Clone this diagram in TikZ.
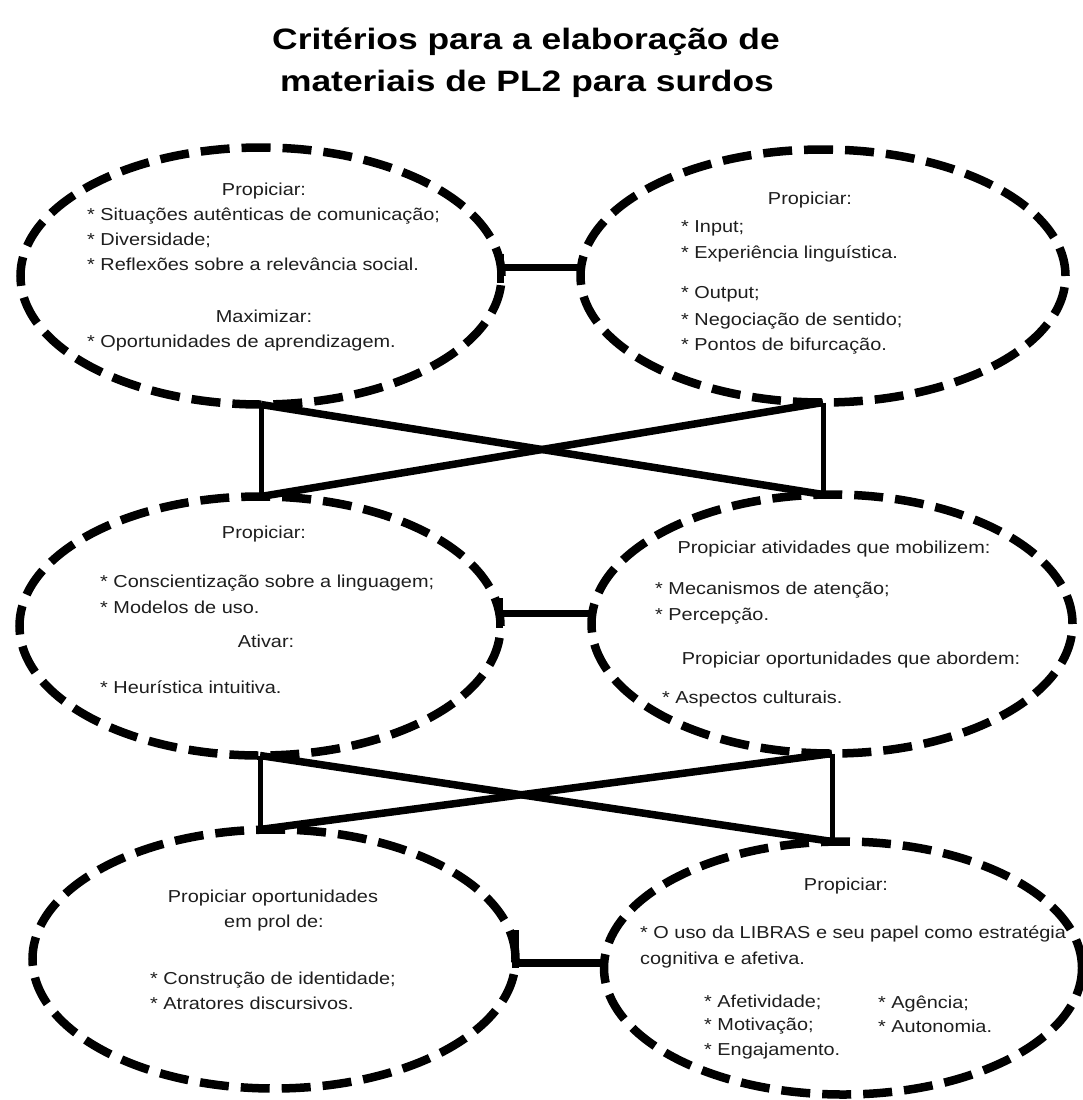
\documentclass[tikz,border=0pt]{standalone}
\usepackage{fontspec}
\setmainfont[FakeStretch=1.15]{Liberation Sans}
\newfontfamily\titlefont[FakeStretch=1.2]{Liberation Sans}
\usetikzlibrary{shapes.geometric}
\definecolor{txtcol}{HTML}{1E1E1E}
\begin{document}
\begin{tikzpicture}[x=1pt,y=-1pt,
  ell/.style={ellipse, draw=black, line width=8.5pt, dash pattern=on 29pt off 12pt,
    inner sep=0pt, outer sep=0pt},
  hconn/.style={draw=black, line width=7.5pt},
  tickbar/.style={draw=black, line width=7pt},
  vconn/.style={draw=black, line width=5pt},
  dconn/.style={draw=black, line width=7.5pt},
  txt/.style={inner sep=0pt, text=txtcol, font=\fontsize{17.3}{20}\selectfont},
  ttl/.style={inner sep=0pt, text=black, font=\titlefont\bfseries\fontsize{29.5}{34}\selectfont}
]
\fill[white] (0,0) rectangle (1083,1100);
\useasboundingbox (0,0) rectangle (1083,1100);

% title
\node[ttl, anchor=base] (t1) at (526,49) {Critérios para a elaboração de};
\node[ttl, anchor=base] (t2) at (527,91) {materiais de PL2 para surdos};

% ellipses
\node[ell, minimum width=481pt, minimum height=257pt] (TL) at (261,276) {};
\node[ell, minimum width=485pt, minimum height=253pt] (TR) at (823,276) {};
\node[ell, minimum width=481pt, minimum height=259pt] (ML) at (260,626) {};
\node[ell, minimum width=481pt, minimum height=259pt] (MR) at (832,624) {};
\node[ell, minimum width=483pt, minimum height=259pt] (BL) at (274,959) {};
\node[ell, minimum width=478pt, minimum height=253pt] (BR) at (843,968) {};

% horizontal connectors
\draw[hconn] (TL.2) -- (TL.2 -| TR.west);
\draw[tickbar] ([yshift=14pt]TL.2) -- ([yshift=-15pt]TL.2);
\draw[hconn] (ML.3) -- (ML.3 -| MR.west);
\draw[tickbar] ([yshift=15pt]ML.3) -- ([yshift=-15pt]ML.3);
\draw[hconn] (BL.-1.4) -- (BL.-1.4 -| BR.west);
\draw[tickbar] ([yshift=33pt]BL.-1.4) -- ([yshift=-5pt]BL.-1.4);

% crossed connectors, top
\draw[vconn] (TL.south) -- (TL.south |- ML.north);
\draw[vconn] (TR.south) -- (TR.south |- MR.north);
\draw[dconn] (TL.south) -- (TR.south |- MR.north);
\draw[dconn] (TR.south) -- (TL.south |- ML.north);

% crossed connectors, bottom
\draw[vconn] (ML.south) -- (ML.south |- BL.north);
\draw[vconn] (MR.south) -- (MR.south |- BR.north);
\draw[dconn] (ML.south) -- (MR.south |- BR.north);
\draw[dconn] (MR.south) -- (ML.south |- BL.north);

% TL text
\node[txt, anchor=base] (tl1) at (264,195) {Propiciar:};
\node[txt, anchor=base west] (tl2) at (87,220) {* Situações autênticas de comunicação;};
\node[txt, anchor=base west] (tl3) at (87,245) {* Diversidade;};
\node[txt, anchor=base west] (tl4) at (87,270) {* Reflexões sobre a relevância social.};
\node[txt, anchor=base] (tl5) at (264,322) {Maximizar:};
\node[txt, anchor=base west] (tl6) at (87,347) {* Oportunidades de aprendizagem.};

% TR text
\node[txt, anchor=base] (tr1) at (810,204) {Propiciar:};
\node[txt, anchor=base west] (tr2) at (681,232) {* Input;};
\node[txt, anchor=base west] (tr3) at (681,258) {* Experiência linguística.};
\node[txt, anchor=base west] (tr4) at (681,298) {* Output;};
\node[txt, anchor=base west] (tr5) at (681,325) {* Negociação de sentido;};
\node[txt, anchor=base west] (tr6) at (681,350) {* Pontos de bifurcação.};

% ML text
\node[txt, anchor=base] (ml1) at (264,538) {Propiciar:};
\node[txt, anchor=base west] (ml2) at (100,587) {* Conscientização sobre a linguagem;};
\node[txt, anchor=base west] (ml3) at (100,613) {* Modelos de uso.};
\node[txt, anchor=base] (ml4) at (266,647) {Ativar:};
\node[txt, anchor=base west] (ml5) at (100,693) {* Heurística intuitiva.};

% MR text
\node[txt, anchor=base] (mr1) at (834,553) {Propiciar atividades que mobilizem:};
\node[txt, anchor=base west] (mr2) at (655,594) {* Mecanismos de atenção;};
\node[txt, anchor=base west] (mr3) at (655,620) {* Percepção.};
\node[txt, anchor=base] (mr4) at (851,664) {Propiciar oportunidades que abordem:};
\node[txt, anchor=base west] (mr5) at (662,703) {* Aspectos culturais.};

% BL text
\node[txt, anchor=base] (bl1) at (273,902) {Propiciar oportunidades};
\node[txt, anchor=base] (bl2) at (274,927) {em prol de:};
\node[txt, anchor=base west] (bl3) at (150,984) {* Construção de identidade;};
\node[txt, anchor=base west] (bl4) at (150,1009) {* Atratores discursivos.};

% BR text
\node[txt, anchor=base] (br1) at (846,890) {Propiciar:};
\node[txt, anchor=base west] (br2) at (640,938) {* O uso da LIBRAS e seu papel como estratégia};
\node[txt, anchor=base west] (br3) at (640,964) {cognitiva e afetiva.};
\node[txt, anchor=base west] (br4) at (704,1007) {* Afetividade;};
\node[txt, anchor=base west] (br5) at (704,1030) {* Motivação;};
\node[txt, anchor=base west] (br6) at (704,1055) {* Engajamento.};
\node[txt, anchor=base west] (br7) at (878,1008) {* Agência;};
\node[txt, anchor=base west] (br8) at (878,1032) {* Autonomia.};
\end{tikzpicture}
\end{document}
